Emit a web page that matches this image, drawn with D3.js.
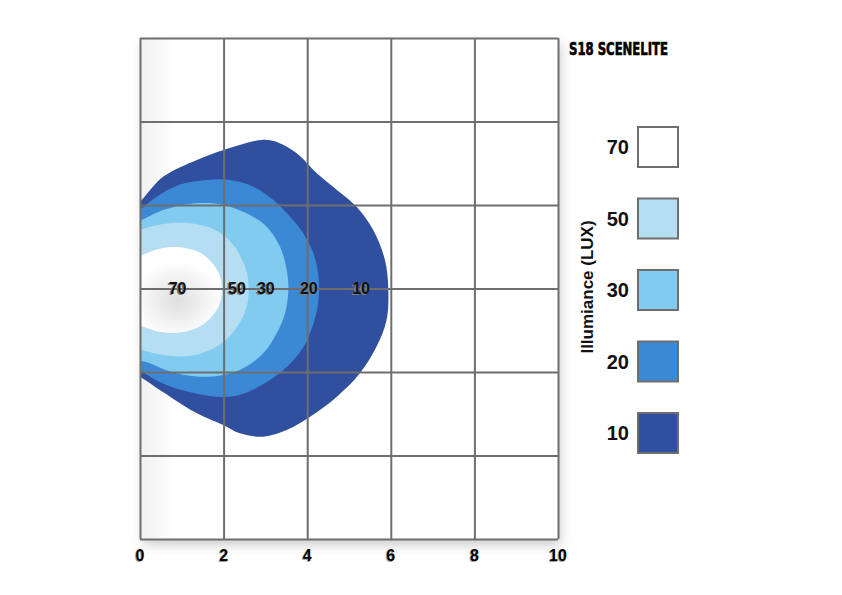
<!DOCTYPE html>
<html>
<head>
<meta charset="utf-8">
<script src="https://cdn.jsdelivr.net/npm/d3@7"></script>
<style>
  body { margin: 0; background: #fff; }
  svg { display: block; font-family: "Liberation Sans", Arial, sans-serif; }
  .grid line { stroke: #6e6e6e; stroke-width: 2px; }
  .grid path { display: none; }
</style>
</head>
<body>
<svg id="chart" width="842" height="595"></svg>
<script>
/* chart values */
var title = "S18 SCENELITE";
var axisTitle = "Illumiance (LUX)";
var xTicks = [0, 2, 4, 6, 8, 10];
var yTicks = [-6, -4, -2, 0, 2, 4, 6];
var levels = [10, 20, 30, 50, 70];
var levelColors = ["#30509f", "#3b88d4", "#80cbef", "#b6def3", "#ffffff"];

/* iso-lux outlines, [x, y] in chart units (left edge runs past x=0 and is clipped) */
var contour10 = [[-0.5, 1.55], [0.04, 2.12], [0.56, 2.68], [1.36, 3.08], [2.0, 3.32], [2.95, 3.56], [3.3, 3.5],
  [3.75, 3.24], [4.23, 2.76], [4.71, 2.36], [5.18, 1.96], [5.58, 1.4], [5.86, 0.68], [5.94, 0.0],
  [5.9, -0.75], [5.66, -1.39], [5.26, -2.03], [4.71, -2.59], [4.07, -3.07], [3.51, -3.39], [2.95, -3.55],
  [2.39, -3.47], [1.99, -3.27], [1.36, -2.99], [0.72, -2.59], [0.24, -2.27], [-0.5, -1.65]];
var contour20 = [[-0.5, 1.5], [0.04, 1.92], [0.4, 2.2], [0.96, 2.49], [1.6, 2.6], [2.15, 2.6], [2.71, 2.44],
  [3.19, 2.12], [3.59, 1.72], [3.91, 1.32], [4.15, 0.84], [4.27, 0.28], [4.27, -0.28], [4.15, -0.84],
  [3.91, -1.4], [3.51, -1.88], [3.03, -2.24], [2.47, -2.52], [1.99, -2.6], [1.36, -2.52], [0.56, -2.28],
  [0.04, -1.99], [-0.5, -1.6]];
var contour30 = [[-0.5, 1.4], [0.04, 1.64], [0.56, 1.88], [1.36, 2.04], [1.99, 2.0], [2.55, 1.8], [3.03, 1.48],
  [3.35, 1.0], [3.51, 0.44], [3.55, -0.04], [3.47, -0.59], [3.27, -1.07], [2.95, -1.55], [2.47, -1.91],
  [1.99, -2.07], [1.36, -2.11], [0.72, -1.99], [0.24, -1.79], [-0.5, -1.5]];
var contour50 = [[-0.5, 1.2], [0.0, 1.4], [0.6, 1.55], [1.3, 1.55], [1.9, 1.35], [2.3, 0.95], [2.55, 0.4],
  [2.6, 0.0], [2.55, -0.45], [2.3, -0.95], [1.9, -1.35], [1.3, -1.6], [0.6, -1.6], [0.0, -1.45], [-0.5, -1.2]];
var contour70 = [[-0.3, 0.6], [0.1, 0.82], [0.5, 0.96], [1.0, 0.98], [1.5, 0.82], [1.87, 0.4], [1.96, 0.0],
  [1.87, -0.45], [1.5, -0.87], [1.0, -1.05], [0.5, -1.04], [0.1, -0.92], [-0.3, -0.7]];
var contours = [contour10, contour20, contour30, contour50, contour70];

/* in-chart level labels along y = 0 */
var labelLevels = [70, 50, 30, 20, 10];
var labelX = [0.9, 2.32, 3.01, 4.04, 5.29];

var svg = d3.select("#chart");
var margin = {top: 38, left: 140},
    width = 418,
    height = 501;

var x = d3.scaleLinear().domain([0, 10]).range([0, width]);
var y = d3.scaleLinear().domain([-6, 6]).range([height, 0]);

var defs = svg.append("defs");

var shadow = defs.append("filter").attr("id", "shadow")
    .attr("x", "-10%").attr("y", "-10%").attr("width", "120%").attr("height", "120%");
shadow.append("feDropShadow")
    .attr("dx", 3).attr("dy", 6).attr("stdDeviation", 6)
    .attr("flood-color", "#000").attr("flood-opacity", 0.2);

var leftShade = defs.append("linearGradient").attr("id", "leftShade");
leftShade.append("stop").attr("offset", "0%").attr("stop-color", "#000").attr("stop-opacity", 0.06);
leftShade.append("stop").attr("offset", "100%").attr("stop-color", "#000").attr("stop-opacity", 0);

var hotSpot = defs.append("radialGradient").attr("id", "hotSpot")
    .attr("cx", "0.55").attr("cy", "0.62").attr("r", "0.45");
hotSpot.append("stop").attr("offset", "0%").attr("stop-color", "#dedede");
hotSpot.append("stop").attr("offset", "100%").attr("stop-color", "#ffffff");

defs.append("clipPath").attr("id", "plotClip")
  .append("rect").attr("width", width).attr("height", height);

var g = svg.append("g")
    .attr("transform", "translate(" + margin.left + "," + margin.top + ")");

/* plot panel with soft shadow */
g.append("rect")
    .attr("width", width).attr("height", height)
    .attr("fill", "#fff")
    .attr("filter", "url(#shadow)");
g.append("rect")
    .attr("width", 36).attr("height", height)
    .attr("fill", "url(#leftShade)");

var outline = d3.line()
    .x(function(d) { return x(d[0]); })
    .y(function(d) { return y(d[1]); })
    .curve(d3.curveCatmullRomClosed.alpha(0.5));

g.append("g")
    .attr("clip-path", "url(#plotClip)")
  .selectAll("path")
  .data(contours)
  .enter().append("path")
    .attr("d", outline)
    .attr("fill", function(d, i) { return i === 4 ? "url(#hotSpot)" : levelColors[i]; });

/* grid */
g.append("g")
    .attr("class", "grid")
    .attr("transform", "translate(0," + height + ")")
    .call(d3.axisBottom(x).tickValues(xTicks).tickSize(-height).tickFormat(""));
g.append("g")
    .attr("class", "grid")
    .call(d3.axisLeft(y).tickValues(yTicks).tickSize(-width).tickFormat(""));

/* x tick labels */
g.selectAll(".xlab-sh")
  .data(xTicks)
  .enter().append("text")
    .attr("x", function(d) { return x(d) - 1; })
    .attr("y", height + 23)
    .attr("text-anchor", "middle")
    .attr("font-size", 16).attr("font-weight", "bold")
    .attr("fill", "#a0a0a0")
    .text(function(d) { return d; });
g.selectAll(".xlab")
  .data(xTicks)
  .enter().append("text")
    .attr("x", function(d) { return x(d); })
    .attr("y", height + 22)
    .attr("text-anchor", "middle")
    .attr("font-size", 16).attr("font-weight", "bold")
    .attr("fill", "#000")
    .text(function(d) { return d; });

/* level labels in the plot */
var lab = g.selectAll(".lvl")
  .data(labelLevels)
  .enter().append("g");
lab.append("text")
    .attr("x", function(d, i) { return x(labelX[i]) - 1.5; })
    .attr("y", y(0) + 6.5)
    .attr("text-anchor", "middle")
    .attr("font-size", 16).attr("font-weight", "bold")
    .attr("fill", "#808080")
    .text(function(d) { return d; });
lab.append("text")
    .attr("x", function(d, i) { return x(labelX[i]); })
    .attr("y", y(0) + 5.5)
    .attr("text-anchor", "middle")
    .attr("font-size", 16).attr("font-weight", "bold")
    .attr("fill", "#111")
    .text(function(d) { return d; });

/* title */
svg.append("text")
    .attr("x", 569).attr("y", 55)
    .attr("font-family", "'Liberation Sans Narrow', 'DejaVu Sans Condensed', sans-serif")
    .attr("font-size", 17).attr("font-weight", "bold")
    .attr("textLength", 99).attr("lengthAdjust", "spacingAndGlyphs")
    .attr("fill", "#000").attr("stroke", "#000").attr("stroke-width", 0.6)
    .text(title);

/* legend, top to bottom from the brightest level */
var legendLevels = levels.slice().reverse();
var legendColors = levelColors.slice().reverse();
var legendY = d3.scalePoint().domain(legendLevels).range([147, 433]);

var legend = svg.append("g");
legend.selectAll("rect")
  .data(legendLevels)
  .enter().append("rect")
    .attr("x", 638)
    .attr("y", function(d) { return legendY(d) - 20; })
    .attr("width", 40).attr("height", 40)
    .attr("fill", function(d, i) { return legendColors[i]; })
    .attr("stroke", "#6e6e6e").attr("stroke-width", 2);
legend.selectAll("text")
  .data(legendLevels)
  .enter().append("text")
    .attr("x", 629)
    .attr("y", function(d) { return legendY(d) + 7; })
    .attr("text-anchor", "end")
    .attr("font-size", 20).attr("font-weight", "bold")
    .attr("fill", "#111")
    .text(function(d) { return d; });

svg.append("text")
    .attr("transform", "translate(593,287) rotate(-90)")
    .attr("text-anchor", "middle")
    .attr("font-size", 17).attr("font-weight", "bold")
    .attr("fill", "#111")
    .text(axisTitle);
</script>
</body>
</html>
